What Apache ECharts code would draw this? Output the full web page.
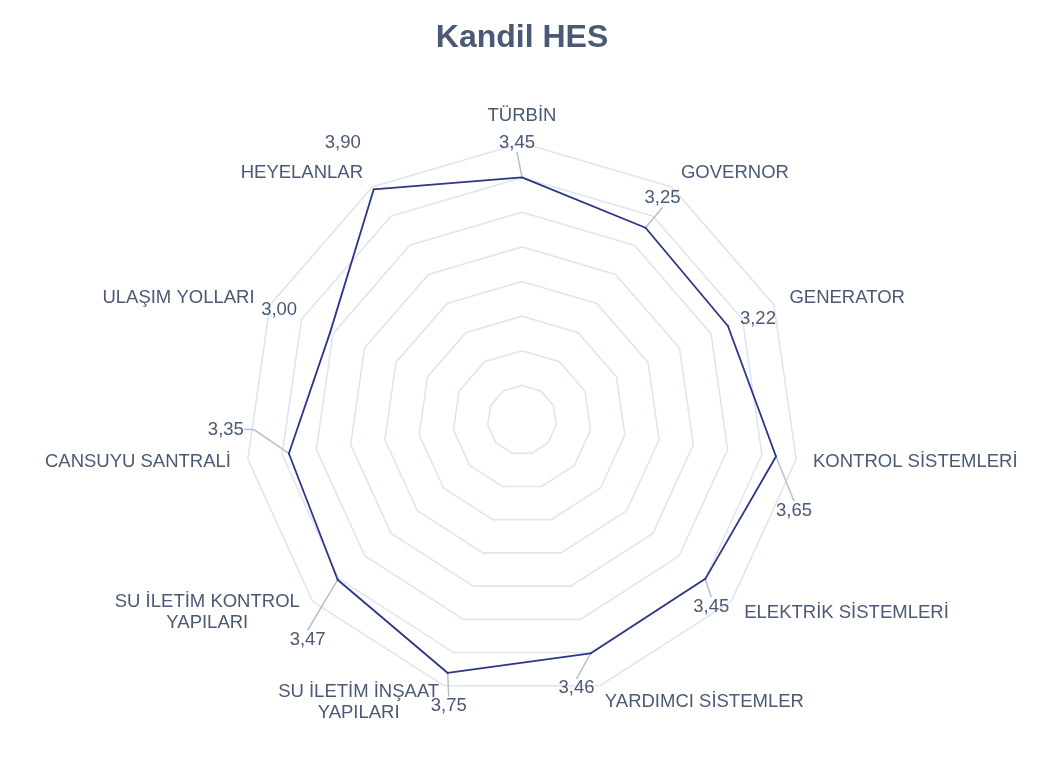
<!DOCTYPE html>
<html><head><meta charset="utf-8">
<script src="https://cdn.jsdelivr.net/npm/echarts@6/dist/echarts.min.js"></script>
<style>html,body{margin:0;padding:0;background:#fff}#c{width:1044px;height:783px}</style>
</head><body><div id="c"></div>
<script>
const title = 'Kandil HES';
const categories = ['TÜRBİN','GOVERNOR','GENERATOR','KONTROL SİSTEMLERİ','ELEKTRİK SİSTEMLERİ','YARDIMCI SİSTEMLER','SU İLETİM İNŞAAT\nYAPILARI','SU İLETİM KONTROL\nYAPILARI','CANSUYU SANTRALİ','ULAŞIM YOLLARI','HEYELANLAR'];
const values = [3.45, 3.25, 3.22, 3.65, 3.45, 3.46, 3.75, 3.47, 3.35, 3.00, 3.90];
const scaleMin = 0;
const scaleMax = 3.94;
const ringCount = 8;
// label placement (pixel offsets of each value label from its point) and leader visibility
const labelOffsets = [[-5,-35],[17,-30],[30,-7],[18,54],[6,28],[-14,35],[1,33],[-30,60],[-63,-24],[-51,-22],[-31,-46]];
const showLeader = [true,true,false,true,true,true,true,true,true,false,false];
const leaderTail = [0,0,0,0,0,0,0,0,10,0,0];

const FONT = "'Liberation Sans', Arial, sans-serif";
const TXT = '#4a5a74';
const LINE = '#2b3687';
const CENTER = [522, 420];
const RADIUS = 277;

// ECharts radar lays indicators out counter-clockwise; reorder so they run clockwise
const cwOrder = categories.map((_, i) => (categories.length - i) % categories.length);
const radarNames = cwOrder.map(i => categories[i]);
const radarValues = cwOrder.map(i => values[i]);

const chart = echarts.init(document.getElementById('c'), null, {renderer: 'canvas'});
const fmt = v => v.toFixed(2).replace('.', ',');

chart.setOption({
  animation: false,
  backgroundColor: '#ffffff',
  title: {
    text: title, left: 'center', top: 17,
    textStyle: {fontFamily: FONT, fontSize: 32, fontWeight: 'bold', color: TXT}
  },
  radar: {
    center: CENTER, radius: RADIUS, shape: 'polygon', splitNumber: ringCount,
    startAngle: 90, nameGap: 17,
    indicator: radarNames.map(n => ({name: n, min: scaleMin, max: scaleMax})),
    axisName: {
      color: TXT, fontFamily: FONT, fontSize: 18.5,
      formatter: name => name.split('\n').map(s => '{c|' + s + '}').join('\n'),
      rich: {c: {align: 'center', color: TXT, fontFamily: FONT, fontSize: 18.5, lineHeight: 21}}
    },
    axisLine: {show: false},
    axisTick: {show: false},
    splitArea: {show: false},
    splitLine: {lineStyle: {color: '#e1e5ec', width: 1.6}}
  },
  polar: {center: CENTER, radius: RADIUS},
  angleAxis: {type: 'category', data: categories, startAngle: 90, clockwise: true, boundaryGap: false, show: false},
  radiusAxis: {type: 'value', min: scaleMin, max: scaleMax, show: false},
  series: [
    {
      type: 'radar', symbol: 'none', silent: true,
      lineStyle: {color: LINE, width: 1.8},
      data: [{value: radarValues}]
    },
    {
      type: 'scatter', coordinateSystem: 'polar', symbolSize: 2, silent: true,
      itemStyle: {color: LINE, opacity: 1},
      data: values.map((v, i) => ({value: [v, i], labelLine: {show: showLeader[i], length2: leaderTail[i]}})),
      label: {
        show: true, position: 'inside', formatter: p => fmt(p.value[0]),
        color: TXT, fontFamily: FONT, fontSize: 18.5,
        textBorderWidth: 0, textBorderColor: 'transparent'
      },
      labelLine: {show: true, length2: 0, lineStyle: {color: '#b6c0ce', width: 1.5}},
      labelLayout: p => ({dx: labelOffsets[p.dataIndex][0], dy: labelOffsets[p.dataIndex][1]})
    }
  ]
});
</script>
</body></html>
